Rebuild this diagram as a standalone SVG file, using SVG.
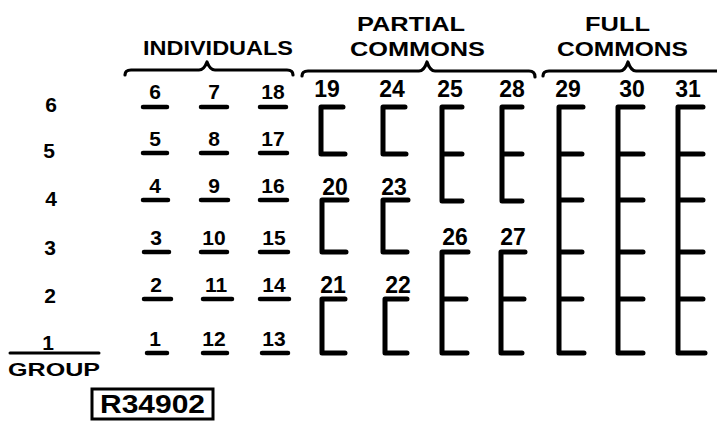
<svg xmlns="http://www.w3.org/2000/svg" width="717" height="421" viewBox="0 0 717 421">
<style>
text{font-family:"Liberation Sans",Arial,sans-serif;font-weight:bold;fill:#000}
.t{font-size:21px}
.n{font-size:21px;text-anchor:middle}
.c{font-size:23px;text-anchor:middle}
.r{font-size:21px;text-anchor:middle}
.ul{stroke:#000;stroke-width:4.5;stroke-linecap:round}
.br{fill:none;stroke:#000;stroke-width:5;stroke-linecap:round;stroke-linejoin:round}
.brace{fill:none;stroke:#000;stroke-width:3.2;stroke-linecap:round;stroke-linejoin:round}
</style>
<rect width="717" height="421" fill="#fff"/>
<g id="headings">
<text class="t" x="143" y="55" textLength="150" lengthAdjust="spacingAndGlyphs">INDIVIDUALS</text>
<text class="t" x="357" y="31" textLength="108" lengthAdjust="spacingAndGlyphs">PARTIAL</text>
<text class="t" x="350" y="56" textLength="135" lengthAdjust="spacingAndGlyphs">COMMONS</text>
<text class="t" x="585" y="31" textLength="65" lengthAdjust="spacingAndGlyphs">FULL</text>
<text class="t" x="557" y="56" textLength="131" lengthAdjust="spacingAndGlyphs">COMMONS</text>
</g>
<g id="connectors">
<path class="brace" d="M125,75 Q125,70 131,70 L199,70 Q204,70 207,62 Q210,70 215,70 L287,70 Q293,70 293,75"/>
<path class="brace" d="M302,76 Q302,71 308,71 L419,71 Q424,71 427,62 Q430,71 435,71 L529,71 Q535,71 535,77"/>
<path class="brace" d="M543,76 Q543,71 549,71 L620,71 Q625,71 628,62 Q631,71 636,71 L717,71"/>
</g>
<g id="group-axis">
<text class="r" x="51" y="112">6</text>
<text class="r" x="49" y="158">5</text>
<text class="r" x="51" y="206">4</text>
<text class="r" x="50" y="255">3</text>
<text class="r" x="50" y="303">2</text>
<text class="r" x="48" y="350">1</text>
<line class="ul" x1="10" y1="353" x2="99" y2="353" style="stroke-width:3"/>
<text x="8" y="376" font-size="18" textLength="92" lengthAdjust="spacingAndGlyphs">GROUP</text>
</g>
<g id="ref">
<rect x="92" y="389" width="121" height="30" fill="none" stroke="#000" stroke-width="3"/>
<text x="100" y="413" font-size="25" textLength="105" lengthAdjust="spacingAndGlyphs">R34902</text>
</g>
<g id="n6"><text class="n" x="155" y="99">6</text><line class="ul" x1="143" y1="107" x2="167" y2="107"/></g>
<g id="n7"><text class="n" x="214" y="99">7</text><line class="ul" x1="201" y1="107" x2="227" y2="107"/></g>
<g id="n18"><text class="n" x="273" y="99">18</text><line class="ul" x1="260" y1="107" x2="286" y2="107"/></g>
<g id="n5"><text class="n" x="155" y="146">5</text><line class="ul" x1="143" y1="153" x2="167" y2="153"/></g>
<g id="n8"><text class="n" x="214" y="146">8</text><line class="ul" x1="201" y1="153" x2="227" y2="153"/></g>
<g id="n17"><text class="n" x="273" y="146">17</text><line class="ul" x1="260" y1="153" x2="287" y2="153"/></g>
<g id="n4"><text class="n" x="155" y="193">4</text><line class="ul" x1="143" y1="200" x2="168" y2="200"/></g>
<g id="n9"><text class="n" x="214" y="193">9</text><line class="ul" x1="201" y1="200" x2="228" y2="200"/></g>
<g id="n16"><text class="n" x="273" y="193">16</text><line class="ul" x1="260" y1="200" x2="287" y2="200"/></g>
<g id="n3"><text class="n" x="156" y="245">3</text><line class="ul" x1="144" y1="252" x2="169" y2="252"/></g>
<g id="n10"><text class="n" x="214" y="245">10</text><line class="ul" x1="201" y1="252" x2="227" y2="252"/></g>
<g id="n15"><text class="n" x="274" y="245">15</text><line class="ul" x1="260" y1="252" x2="288" y2="252"/></g>
<g id="n2"><text class="n" x="156" y="292">2</text><line class="ul" x1="144" y1="299" x2="171" y2="299"/></g>
<g id="n11"><text class="n" x="216" y="292">11</text><line class="ul" x1="203" y1="299" x2="232" y2="299"/></g>
<g id="n14"><text class="n" x="274" y="292">14</text><line class="ul" x1="260" y1="299" x2="289" y2="299"/></g>
<g id="n1"><text class="n" x="155" y="346">1</text><line class="ul" x1="147" y1="353" x2="167" y2="353"/></g>
<g id="n12"><text class="n" x="214" y="346">12</text><line class="ul" x1="203" y1="353" x2="227" y2="353"/></g>
<g id="n13"><text class="n" x="274" y="346">13</text><line class="ul" x1="262" y1="353" x2="288" y2="353"/></g>
<g id="p19"><text class="c" x="327" y="97">19</text><path class="br" d="M343,107 L321,107 L321,154 L345,154"/></g>
<g id="p24"><text class="c" x="392" y="97">24</text><path class="br" d="M405,107 L383,107 L383,154 L406,154"/></g>
<g id="p25"><text class="c" x="450" y="97">25</text><path class="br" d="M462,107 L442,107 L442,201 L462,201 M442,154 L462,154"/></g>
<g id="p28"><text class="c" x="512" y="97">28</text><path class="br" d="M522,107 L502,107 L502,201 L522,201 M502,154 L522,154"/></g>
<g id="p20"><text class="c" x="335" y="195">20</text><path class="br" d="M347,200 L322,200 L322,252 L346,252"/></g>
<g id="p23"><text class="c" x="394" y="195">23</text><path class="br" d="M408,200 L383,200 L383,252 L407,252"/></g>
<g id="p26"><text class="c" x="455" y="245">26</text><path class="br" d="M468,252 L442,252 L442,353 L467,353 M442,299 L466,299"/></g>
<g id="p27"><text class="c" x="513" y="245">27</text><path class="br" d="M525,252 L501,252 L501,353 L522,353 M501,299 L524,299"/></g>
<g id="p21"><text class="c" x="333" y="293">21</text><path class="br" d="M345,299 L322,299 L322,353 L345,353"/></g>
<g id="p22"><text class="c" x="398" y="293">22</text><path class="br" d="M407,299 L385,299 L385,353 L407,353"/></g>
<g id="f29"><text class="c" x="568" y="97">29</text><path class="br" d="M583,107 L559,107 L559,353 L584,353 M559,154 L582,154 M559,200 L582,200 M559,252 L582,252 M559,299 L582,299"/></g>
<g id="f30"><text class="c" x="632" y="97">30</text><path class="br" d="M643,107 L618,107 L618,353 L643,353 M618,154 L643,154 M618,200 L643,200 M618,252 L643,252 M618,299 L643,299"/></g>
<g id="f31"><text class="c" x="688" y="97">31</text><path class="br" d="M703,107 L678,107 L678,353 L705,353 M678,154 L703,154 M678,200 L703,200 M678,252 L703,252 M678,299 L703,299"/></g>
</svg>
